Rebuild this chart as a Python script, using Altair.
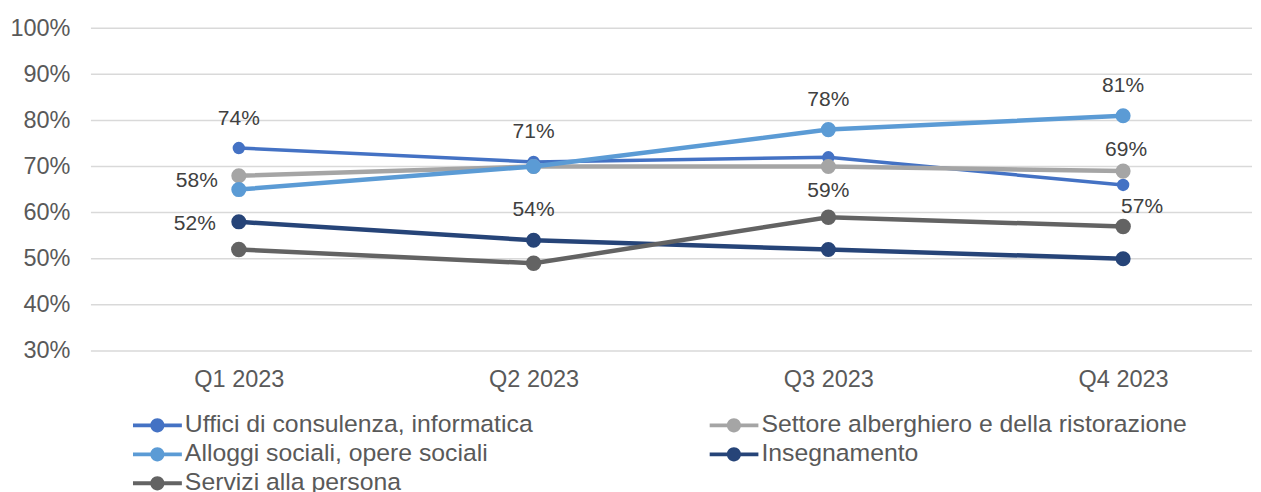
import altair as alt
import pandas as pd

quarters = ["Q1 2023", "Q2 2023", "Q3 2023", "Q4 2023"]
series = [
    "Uffici di consulenza, informatica",
    "Settore alberghiero e della ristorazione",
    "Alloggi sociali, opere sociali",
    "Insegnamento",
    "Servizi alla persona",
]
uffici = [74, 71, 72, 66]
settore = [68, 70, 70, 69]
alloggi = [65, 70, 78, 81]
insegnamento = [58, 54, 52, 50]
servizi = [52, 49, 59, 57]
values = [uffici, settore, alloggi, insegnamento, servizi]
colors = ["#4472C4", "#A5A5A5", "#5B9BD5", "#264478", "#636363"]
y_ticks = [30, 40, 50, 60, 70, 80, 90, 100]

# data labels that are shown: (series index, quarter index)
label_series = [0, 3, 4, 0, 3, 2, 4, 2, 1, 4]
label_quarter = [0, 0, 0, 1, 1, 2, 2, 3, 3, 3]

# style: pixel offsets of each data label from its point
label_offsets = [(0, -29), (-42, -41), (-44, -26), (0, -30), (0, -30),
                 (0, -30), (0, -26), (0, -30), (3, -21), (19, -19)]
line_widths = [3.5, 4.5, 4.5, 4.5, 4.5]
point_sizes = [154, 227, 227, 227, 240]

rows = []
for s, vals in zip(series, values):
    for q, v in zip(quarters, vals):
        rows.append({"series": s, "quarter": q, "value": v})
df = pd.DataFrame(rows)

FONT = "Liberation Sans"
# legend glyph: a short bar with a dot in its middle (filled shape)
sym = ("M-1,-0.08L1,-0.08L1,0.08L-1,0.08Z"
       "M-0.29,0A0.29,0.29,0,1,1,0.29,0A0.29,0.29,0,1,1,-0.29,0Z")

x_enc = alt.X("quarter:N", sort=quarters, title=None,
              scale=alt.Scale(type="point", padding=0, range=[148, 1033]),
              axis=alt.Axis(domain=False, ticks=False, labelFontSize=23.5,
                            labelFont=FONT, labelColor="#595959",
                            labelPadding=17, labelAngle=0, grid=False))
y_scale = alt.Scale(domain=[30, 100], nice=False, zero=False)
y_enc = alt.Y("value:Q", title=None, scale=y_scale,
              axis=alt.Axis(values=y_ticks,
                            labelExpr="datum.value + '%'", domain=False,
                            ticks=False, labelFontSize=23.5, labelFont=FONT,
                            labelColor="#595959", labelPadding=21,
                            grid=False, minExtent=83, maxExtent=83))

legend = alt.Legend(
    title=None, orient="none", legendX=42, legendY=383, columns=2,
    direction="horizontal",
    columnPadding=176, rowPadding=0, clipHeight=29,
    symbolType=sym, symbolSize=2401, symbolStrokeWidth=0,
    symbolOpacity=1,
    labelFontSize=24.8, labelFont=FONT, labelColor="#595959",
    labelOffset=3, labelLimit=700,
)
color_scale = alt.Scale(domain=series, range=colors)

grid = alt.Chart(pd.DataFrame({"value": y_ticks})).mark_rule(
    color="#D9D9D9", strokeWidth=1.5).encode(y=y_enc)

layers = [grid]
for i, s in enumerate(series):
    base = alt.Chart(df).transform_filter(alt.datum.series == s)
    layers.append(base.mark_line(strokeWidth=line_widths[i],
                                 color=colors[i]).encode(x=x_enc, y=y_enc))
    layers.append(base.mark_circle(size=point_sizes[i], opacity=1).encode(
        x=x_enc, y=y_enc,
        color=alt.Color("series:N", scale=color_scale, legend=legend,
                        sort=series)))

for (si, qi), (dx, dy) in zip(zip(label_series, label_quarter), label_offsets):
    v = values[si][qi]
    ldf = pd.DataFrame({"quarter": [quarters[qi]], "value": [v],
                        "label": [f"{v}%"]})
    layers.append(alt.Chart(ldf).mark_text(
        dx=dx, dy=dy, fontSize=21, font=FONT, color="#404040",
        align="center", baseline="middle").encode(
        x=x_enc, y=y_enc, text="label:N"))

chart = alt.layer(*layers).properties(
    width=1162, height=323,
    padding={"left": 0, "top": 8, "right": 0, "bottom": 0},
).configure(background="white").configure_view(stroke=None)

chart.save("out.html", embed_options={"renderer": "svg", "actions": False})
